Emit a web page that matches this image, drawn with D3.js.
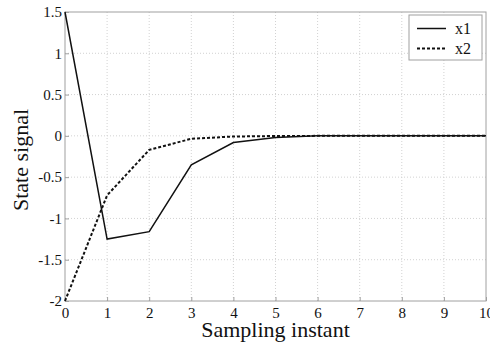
<!DOCTYPE html>
<html>
<head>
<meta charset="utf-8">
<script src="https://cdn.jsdelivr.net/npm/d3@7"></script>
<style>
  body { margin: 0; background: #fff; }
  svg { display: block; }
  text { font-family: "Liberation Serif", "Times New Roman", serif; fill: #111; }
</style>
</head>
<body>
<svg id="chart" width="490" height="343"></svg>
<script>
// data
const steps = [0, 1, 2, 3, 4, 5, 6, 7, 8, 9, 10];
const x1 = [1.5, -1.25, -1.16, -0.35, -0.08, -0.02, 0, 0, 0, 0, 0];
const x2 = [-2, -0.72, -0.17, -0.035, -0.008, -0.002, 0, 0, 0, 0, 0];
const xTicks = [0, 1, 2, 3, 4, 5, 6, 7, 8, 9, 10];
const yTicks = [-2, -1.5, -1, -0.5, 0, 0.5, 1, 1.5];
const seriesNames = ['x1', 'x2'];

const plotLeft = 65, plotRight = 486, plotTop = 12, plotBottom = 301;

const svg = d3.select('#chart');
const x = d3.scaleLinear().domain([0, 10]).range([plotLeft, plotRight]);
const y = d3.scaleLinear().domain([-2, 1.5]).range([plotBottom, plotTop]);

// grid
const grid = svg.append('g')
  .attr('stroke', '#d2d2d2')
  .attr('stroke-dasharray', '1,2')
  .attr('stroke-width', 1);

grid.selectAll('line.v')
  .data(xTicks.slice(1, -1))
  .enter()
  .append('line')
  .attr('x1', d => x(d)).attr('x2', d => x(d))
  .attr('y1', plotTop).attr('y2', plotBottom);

grid.selectAll('line.h')
  .data(yTicks.slice(1, -1))
  .enter()
  .append('line')
  .attr('x1', plotLeft).attr('x2', plotRight)
  .attr('y1', d => y(d)).attr('y2', d => y(d));

// frame
svg.append('rect')
  .attr('x', plotLeft).attr('y', plotTop)
  .attr('width', plotRight - plotLeft).attr('height', plotBottom - plotTop)
  .attr('fill', 'none')
  .attr('stroke', '#a0a0a0')
  .attr('stroke-width', 1);

// axes, ticks inward like matlab
const xAxis = svg.append('g')
  .attr('transform', `translate(0,${plotBottom})`)
  .call(d3.axisBottom(x).tickValues(xTicks).tickSize(-4).tickPadding(10).tickFormat(d => String(d)));

const yAxis = svg.append('g')
  .attr('transform', `translate(${plotLeft},0)`)
  .call(d3.axisLeft(y).tickValues(yTicks).tickSize(-4).tickPadding(3).tickFormat(d => String(d)));

[xAxis, yAxis].forEach(ax => {
  ax.attr('font-family', '"Liberation Serif", serif').attr('font-size', 15);
  ax.select('.domain').remove();
  ax.selectAll('.tick line').attr('stroke', '#a0a0a0');
  ax.selectAll('.tick text').attr('fill', '#111');
});
xAxis.selectAll('.tick text').attr('dy', '0.45em');

// lines
const line = d3.line()
  .x((d, i) => x(steps[i]))
  .y(d => y(d));

svg.append('path')
  .datum(x1)
  .attr('d', line)
  .attr('fill', 'none')
  .attr('stroke', '#111')
  .attr('stroke-width', 1.5);

svg.append('path')
  .datum(x2)
  .attr('d', line)
  .attr('fill', 'none')
  .attr('stroke', '#111')
  .attr('stroke-width', 2)
  .attr('stroke-dasharray', '3,2');

// axis labels
svg.append('text')
  .attr('x', (plotLeft + plotRight) / 2)
  .attr('y', 337)
  .attr('text-anchor', 'middle')
  .style('font-size', '22px')
  .text('Sampling instant');

svg.append('text')
  .attr('transform', 'translate(28,160) rotate(-90)')
  .attr('text-anchor', 'middle')
  .style('font-size', '22px')
  .text('State signal');

// legend
const legend = svg.append('g');
legend.append('rect')
  .attr('x', 409).attr('y', 15)
  .attr('width', 73).attr('height', 45)
  .attr('fill', '#fff')
  .attr('stroke', '#a0a0a0');

const dashes = [null, '3,2'];
const widths = [1.5, 2];
seriesNames.forEach((name, i) => {
  const ly = 28.5 + i * 20;
  legend.append('line')
    .attr('x1', 417).attr('x2', 446)
    .attr('y1', ly).attr('y2', ly)
    .attr('stroke', '#111')
    .attr('stroke-width', widths[i])
    .attr('stroke-dasharray', dashes[i]);
  legend.append('text')
    .attr('x', 455).attr('y', ly + 5.5)
    .style('font-size', '16px')
    .text(name);
});
</script>
</body>
</html>
